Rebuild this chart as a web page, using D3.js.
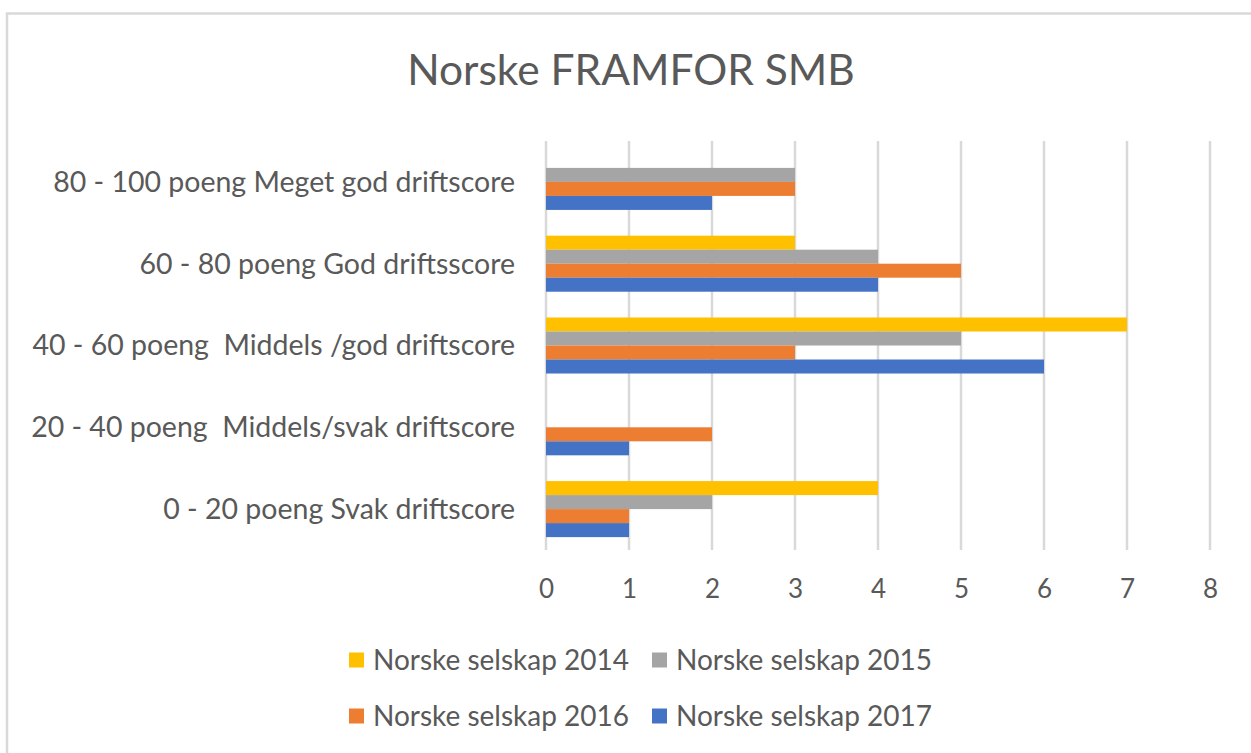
<!DOCTYPE html>
<html>
<head>
<meta charset="utf-8">
<script src="https://cdn.jsdelivr.net/npm/d3@7"></script>
<style>
  body { margin: 0; background: #fff; }
  svg text { font-family: Lato, "Open Sans", sans-serif; fill: #595959; white-space: pre; }
</style>
</head>
<body>
<div id="chart"></div>
<script>
const categories = [
    "80 - 100 poeng Meget god driftscore",
    "60 - 80 poeng God driftsscore",
    "40 - 60 poeng  Middels /god driftscore",
    "20 - 40 poeng  Middels/svak driftscore",
    "0 - 20 poeng Svak driftscore"
];
const seriesNames = ["Norske selskap 2014", "Norske selskap 2015", "Norske selskap 2016", "Norske selskap 2017"];
const values2014 = [0, 3, 7, 0, 4];
const values2015 = [3, 4, 5, 0, 2];
const values2016 = [3, 5, 3, 2, 1];
const values2017 = [2, 4, 6, 1, 1];
const xTicks = [0, 1, 2, 3, 4, 5, 6, 7, 8];
const colors = ["#FFC000", "#A5A5A5", "#ED7D31", "#4472C4"];

const allValues = [values2014, values2015, values2016, values2017];

const width = 1251, height = 753;

const svg = d3.select("#chart")
    .append("svg")
    .attr("width", width)
    .attr("height", height);

// chart area border
svg.append("rect")
    .attr("x", 7)
    .attr("y", 13.5)
    .attr("width", width)
    .attr("height", height)
    .attr("fill", "none")
    .attr("stroke", "#D9D9D9")
    .attr("stroke-width", 2.5);

svg.append("text")
    .attr("x", 631)
    .attr("y", 85)
    .attr("text-anchor", "middle")
    .style("font-size", "42.5px")
    .text("Norske FRAMFOR SMB");

const x = d3.scaleLinear()
    .domain([0, 8])
    .range([546, 1210]);

const y = d3.scaleBand()
    .domain(categories)
    .range([141, 550])
    .paddingInner(0.315)
    .paddingOuter(0.1575);

const ySub = d3.scaleBand()
    .domain(seriesNames)
    .range([0, y.bandwidth()]);

// gridlines
svg.append("g")
    .selectAll("line")
    .data(xTicks)
    .enter()
    .append("line")
    .attr("x1", d => x(d))
    .attr("x2", d => x(d))
    .attr("y1", 141)
    .attr("y2", 550)
    .attr("stroke", "#D9D9D9")
    .attr("stroke-width", 2.5);

// bars
seriesNames.forEach((name, si) => {
    svg.append("g")
        .selectAll("rect")
        .data(categories.map((c, i) => ({ cat: c, value: allValues[si][i] })))
        .enter()
        .append("rect")
        .attr("x", x(0))
        .attr("y", d => y(d.cat) + ySub(name))
        .attr("width", d => x(d.value) - x(0))
        .attr("height", ySub.bandwidth())
        .attr("fill", colors[si]);
});

// x axis labels
const xAxis = d3.axisBottom(x)
    .tickValues(xTicks)
    .tickSize(0)
    .tickPadding(0);

const xg = svg.append("g")
    .attr("transform", "translate(0, 575)")
    .call(xAxis);
xg.select(".domain").remove();
xg.selectAll("text")
    .style("font-size", "26px")
    .style("font-family", "Lato, sans-serif")
    .attr("fill", "#595959")
    .attr("dy", "0.9em");

// y category labels
const yAxis = d3.axisLeft(y)
    .tickSize(0)
    .tickPadding(0);
const yg = svg.append("g")
    .attr("transform", "translate(515, 0)")
    .call(yAxis);
yg.select(".domain").remove();
yg.selectAll("text")
    .style("font-size", "28.5px")
    .style("font-family", "Lato, sans-serif")
    .style("white-space", "pre")
    .attr("fill", "#595959")
    .attr("dy", "0.35em");

// legend
const legendPos = [[349, 660], [652, 660], [349, 716], [652, 716]];
const legend = svg.append("g")
    .selectAll("g")
    .data(seriesNames)
    .enter()
    .append("g")
    .attr("transform", (d, i) => `translate(${legendPos[i][0]}, ${legendPos[i][1]})`);

legend.append("rect")
    .attr("x", 0)
    .attr("y", -7.5)
    .attr("width", 15)
    .attr("height", 15)
    .attr("fill", (d, i) => colors[i]);

legend.append("text")
    .attr("x", 24)
    .attr("y", 0)
    .attr("dy", "0.35em")
    .style("font-size", "28px")
    .text(d => d);
</script>
</body>
</html>
